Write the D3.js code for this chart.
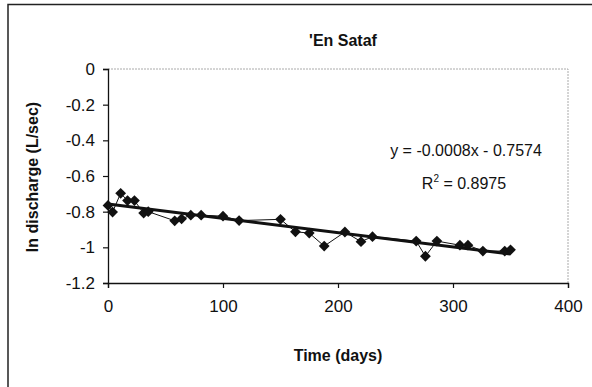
<!DOCTYPE html>
<html>
<head>
<meta charset="utf-8">
<script src="https://cdn.jsdelivr.net/npm/d3@7"></script>
<style>
  body { margin: 0; background: #fff; }
  text { font-family: "Liberation Sans", Arial, sans-serif; fill: #111; }
</style>
</head>
<body>
<svg id="chart"></svg>
<script>
/* data */
const days = [0, 4, 11, 17, 23, 31, 35, 58, 64, 72, 81, 100, 114, 150, 163,
  175, 188, 206, 220, 230, 268, 276, 286, 306, 313, 326, 345, 350];
const lnQ = [-0.765, -0.802, -0.697, -0.738, -0.738, -0.808, -0.8, -0.851, -0.84,
  -0.82, -0.82, -0.825, -0.85, -0.843, -0.913, -0.92, -0.993, -0.914, -0.968,
  -0.94, -0.965, -1.05, -0.965, -0.988, -0.988, -1.021, -1.021, -1.014];
const xTicks = [0, 100, 200, 300, 400];
const yTicks = [0, -0.2, -0.4, -0.6, -0.8, -1, -1.2];
const slope = -0.0008;
const intercept = -0.7574;
const r2 = 0.8975;

const W = 592, H = 387;
let margin = {top: 69, right: 24, bottom: 104, left: 108};
let width = W - margin.left - margin.right,
  height = H - margin.top - margin.bottom;

let svg = d3.select("#chart").attr("width", W).attr("height", H);

// outer chart frame (only top and left edge are in the picture)
svg.append("path")
  .attr("d", "M8,387 L8,4.5 L592,4.5")
  .attr("fill", "none")
  .attr("stroke", "#222")
  .attr("stroke-width", 1.5);

let g = svg.append("g")
  .attr("transform", "translate(" + margin.left + "," + margin.top + ")");

let x = d3.scaleLinear().domain([0, 400]).range([0, width]);
let y = d3.scaleLinear().domain([-1.2, 0]).range([height, 0]);

// faint plot area border on top and right
g.append("path")
  .attr("d", "M0,0 L" + width + ",0 L" + width + "," + height)
  .attr("fill", "none")
  .attr("stroke", "#aaa")
  .attr("stroke-dasharray", "2,1");

// excel style labels: plain hyphen, no trailing zeros
let yAxis = g.append("g")
  .call(d3.axisLeft(y).tickValues(yTicks).tickSize(5).tickPadding(8)
    .tickFormat(d => String(d)));
let xAxis = g.append("g")
  .attr("transform", "translate(0," + height + ")")
  .call(d3.axisBottom(x).tickValues(xTicks).tickSize(5).tickPadding(12)
    .tickFormat(d => String(d)));

[xAxis, yAxis].forEach(a => {
  a.select(".domain").attr("stroke", "#111").attr("stroke-width", 1.3);
  a.selectAll(".tick line").attr("stroke", "#111").attr("stroke-width", 1.2);
  a.selectAll("text").style("font-size", "17px").attr("fill", "#111");
});

// data line
let line = d3.line()
  .x((d, i) => x(days[i]))
  .y(d => y(d));

g.append("path")
  .datum(lnQ)
  .attr("d", line)
  .attr("fill", "none")
  .attr("stroke", "#111")
  .attr("stroke-width", 1);

// linear trendline
let t0 = d3.min(days), t1 = d3.max(days);
g.append("line")
  .attr("x1", x(t0)).attr("y1", y(slope * t0 + intercept))
  .attr("x2", x(t1)).attr("y2", y(slope * t1 + intercept))
  .attr("stroke", "#111")
  .attr("stroke-width", 3);

// diamond markers
g.selectAll(".pt")
  .data(lnQ)
  .enter().append("path")
  .attr("class", "pt")
  .attr("d", d3.symbol().type(d3.symbolSquare).size(58))
  .attr("transform", (d, i) => "translate(" + x(days[i]) + "," + y(d) + ") rotate(45)")
  .attr("fill", "#111");

// equation
let eq = g.append("text")
  .attr("x", 358)
  .attr("y", 87)
  .attr("text-anchor", "middle")
  .style("font-size", "16px")
  .text("y = " + slope.toFixed(4) + "x - " + Math.abs(intercept).toFixed(4));

let rt = g.append("text")
  .attr("x", 356)
  .attr("y", 120)
  .attr("text-anchor", "middle")
  .style("font-size", "16px");
rt.append("tspan").text("R");
rt.append("tspan").attr("dy", -7).style("font-size", "10px").text("2");
rt.append("tspan").attr("dy", 7).text(" = " + r2);

// titles
svg.append("text")
  .attr("x", 343)
  .attr("y", 46)
  .attr("text-anchor", "middle")
  .style("font-size", "16px")
  .style("font-weight", "bold")
  .text("'En Sataf");

svg.append("text")
  .attr("x", margin.left + width / 2)
  .attr("y", 361)
  .attr("text-anchor", "middle")
  .style("font-size", "16px")
  .style("font-weight", "bold")
  .text("Time (days)");

svg.append("text")
  .attr("transform", "translate(38," + (margin.top + 108) + ") rotate(-90)")
  .attr("text-anchor", "middle")
  .style("font-size", "16px")
  .style("font-weight", "bold")
  .text("ln discharge (L/sec)");
</script>
</body>
</html>
